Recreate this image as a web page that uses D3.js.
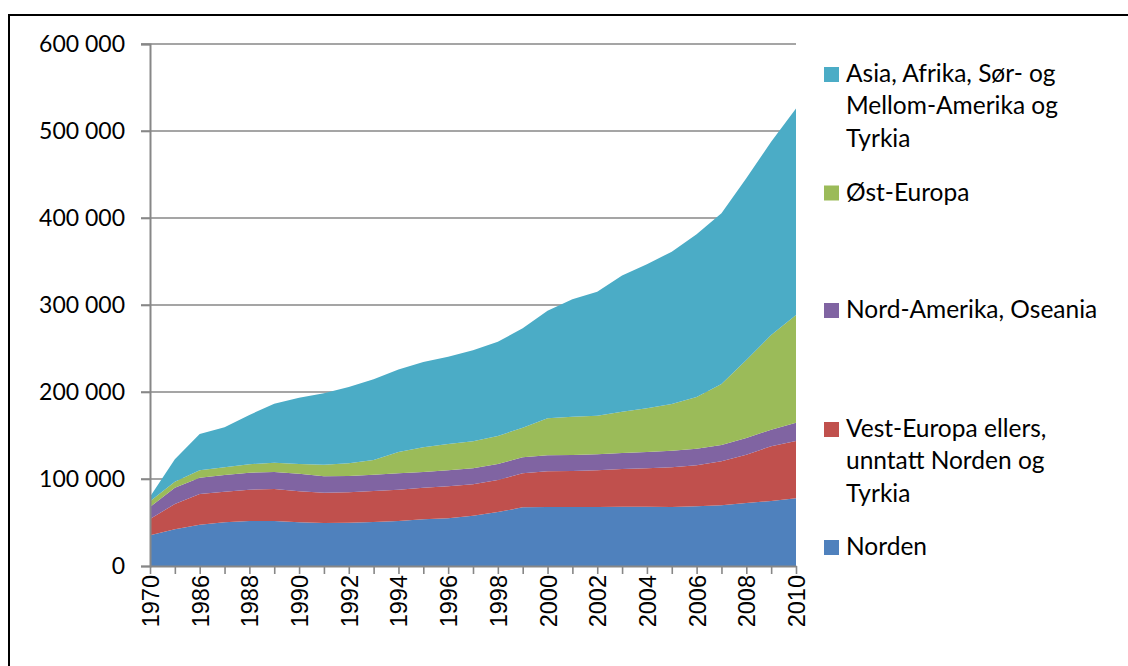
<!DOCTYPE html>
<html>
<head>
<meta charset="utf-8">
<script src="https://cdn.jsdelivr.net/npm/d3@7"></script>
<style>
  html, body { margin: 0; padding: 0; background: #fff; }
  svg { display: block; }
</style>
</head>
<body>
<svg id="chart" width="1128" height="666"></svg>
<script>
// ---- Data ----
const years = ["1970","1980","1986","1987","1988","1989","1990","1991","1992","1993","1994","1995","1996","1997","1998","1999","2000","2001","2002","2003","2004","2005","2006","2007","2008","2009","2010"];
const xTickLabels = ["1970","1986","1988","1990","1992","1994","1996","1998","2000","2002","2004","2006","2008","2010"];
const norden   = [35300,42100,47500,50200,51700,51700,50200,49400,49800,50600,51700,53600,54800,57800,62000,67400,67800,67800,67800,68200,68200,67800,68600,69700,72400,74700,77800];
const vestEuropa = [18700,29200,35300,35200,36000,36800,35600,34900,34900,35600,36000,36400,36800,36100,36900,39100,41000,41400,42200,43300,44100,45600,47100,50600,55600,62900,65900];
const nordAmerika = [13800,18700,18700,19200,19600,19500,20300,18800,18700,18800,18800,18000,18400,18400,18300,18400,18400,18400,18400,18400,18700,19100,19200,18800,19100,19100,21000];
const ostEuropa = [6600,6900,8500,8800,9600,10800,11100,13400,14600,16800,24500,28400,30200,31000,32200,34100,42500,44000,44400,47500,50300,53700,59400,70100,89700,108800,123800];
const asiaAfrika = [5300,25700,41700,46000,56700,67800,76300,82000,87700,92800,95000,98100,100400,104700,108400,114200,123800,134900,142500,156600,165500,175100,186900,196200,208800,222200,237500];
const yTicks = [0,100000,200000,300000,400000,500000,600000];

const seriesKeys = ["norden","vest","nordam","ost","asia"];
const seriesNames = {
  asia: ["Asia, Afrika, Sør- og", "Mellom-Amerika og", "Tyrkia"],
  ost: ["Øst-Europa"],
  nordam: ["Nord-Amerika, Oseania"],
  vest: ["Vest-Europa ellers,", "unntatt Norden og", "Tyrkia"],
  norden: ["Norden"]
};
const colors = { norden:"#4F81BD", vest:"#C0504D", nordam:"#8064A2", ost:"#9BBB59", asia:"#4BACC6" };

// table for the stack
const table = years.map((y,i)=>({year:y, norden:norden[i], vest:vestEuropa[i], nordam:nordAmerika[i], ost:ostEuropa[i], asia:asiaAfrika[i]}));

const svg = d3.select("#chart");

// outer border
svg.append("rect").attr("x",9).attr("y",15).attr("width",1130).attr("height",670)
  .attr("fill","none").attr("stroke","#000").attr("stroke-width",2);

const x = d3.scalePoint().domain(years).range([150,796]);
const y = d3.scaleLinear().domain([0,600000]).range([566,44]);

// gridlines
svg.append("g").selectAll("line").data(yTicks.filter(d=>d>0)).join("line")
  .attr("x1",141).attr("x2",796).attr("y1",d=>y(d)).attr("y2",d=>y(d))
  .attr("stroke","#878787").attr("stroke-width",1.6);

// stacked areas
const stack = d3.stack().keys(seriesKeys);
const layers = stack(table);
const area = d3.area().x(d=>x(d.data.year)).y0(d=>y(d[0])).y1(d=>y(d[1]));
svg.append("g").selectAll("path").data(layers).join("path")
  .attr("d",area).attr("fill",d=>colors[d.key]);

// y axis
const yAxis = d3.axisLeft(y).tickValues(yTicks).tickSize(9).tickPadding(16)
  .tickFormat(d=>d3.format(",")(d).replace(/,/g," "));
const gy = svg.append("g").attr("transform","translate(150,0)").call(yAxis);
gy.select(".domain").attr("stroke","#878787").attr("stroke-width",2);
gy.selectAll(".tick line").attr("stroke","#878787").attr("stroke-width",1.6);
gy.selectAll(".tick text").style("font-family","Lato, 'Open Sans', sans-serif").style("font-size","23px").attr("fill","#000");

// x axis
const xAxis = d3.axisBottom(x).tickSize(8).tickSizeOuter(0)
  .tickFormat(d=>xTickLabels.includes(d)?d:"");
const gx = svg.append("g").attr("transform","translate(0,566)").call(xAxis);
gx.select(".domain").attr("stroke","#878787").attr("stroke-width",2);
gx.selectAll(".tick line").attr("stroke","#878787").attr("stroke-width",1.6);
gx.selectAll(".tick text")
  .style("font-family","'Liberation Sans', Arial, sans-serif").style("font-size","23.5px").attr("fill","#000")
  .attr("text-anchor","end").attr("transform","rotate(-90)")
  .attr("x",-9).attr("y",0).attr("dy","0.36em");

// legend
const legendItems = [
  {key:"asia", base:82},
  {key:"ost", base:200.5},
  {key:"nordam", base:318},
  {key:"vest", base:437},
  {key:"norden", base:555}
];
const lg = svg.append("g");
legendItems.forEach(it=>{
  lg.append("rect").attr("x",824).attr("y",it.base-15).attr("width",15).attr("height",15).attr("fill",colors[it.key]);
  const t = lg.append("text").attr("x",846).attr("y",it.base)
    .style("font-family","Lato, 'Open Sans', sans-serif").style("font-size","24.5px").attr("fill","#000");
  seriesNames[it.key].forEach((line,j)=>{
    t.append("tspan").attr("x",846).attr("y",it.base + j*32.3).text(line);
  });
});
</script>
</body>
</html>
